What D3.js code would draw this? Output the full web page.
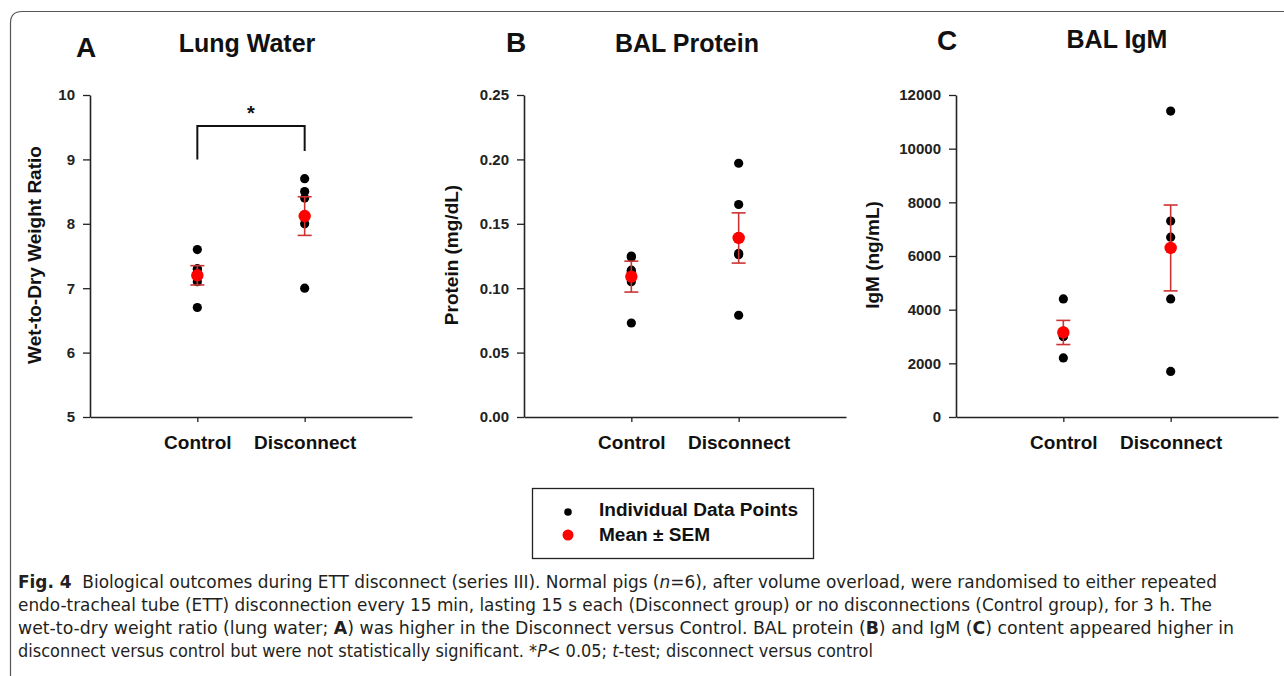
<!DOCTYPE html>
<html>
<head>
<meta charset="utf-8">
<script src="https://cdn.jsdelivr.net/npm/d3@7"></script>
<style>
  html, body { margin: 0; padding: 0; background: #fff; }
  svg { display: block; }
</style>
</head>
<body>
<svg id="chart" width="1284" height="676"></svg>
<script>
// ---------- DATA ----------
const categories = ["Control", "Disconnect"];

const lungControl    = [7.6, 7.3, 7.3, 7.2, 7.1, 6.7];
const lungDisconnect = [8.7, 8.5, 8.4, 8.1, 8.0, 7.0];
const lungMean = [7.2, 8.12];
const lungSem  = [0.15, 0.30];
const lungTicks = [5, 6, 7, 8, 9, 10];

const proteinControl    = [0.125, 0.124, 0.114, 0.113, 0.105, 0.073];
const proteinDisconnect = [0.197, 0.165, 0.140, 0.127, 0.126, 0.079];
const proteinMean = [0.109, 0.139];
const proteinSem  = [0.012, 0.0195];
const proteinTicks = [0.00, 0.05, 0.10, 0.15, 0.20, 0.25];

const igmControl    = [4400, 3200, 3100, 3000, 3000, 2200];
const igmDisconnect = [11400, 7300, 6700, 6300, 4400, 1700];
const igmMean = [3150, 6300];
const igmSem  = [450, 1600];
const igmTicks = [0, 2000, 4000, 6000, 8000, 10000, 12000];

const panelLetters = ["A", "B", "C"];
const panelTitles = ["Lung Water", "BAL Protein", "BAL IgM"];
const yLabels = ["Wet-to-Dry Weight Ratio", "Protein (mg/dL)", "IgM (ng/mL)"];
const legendLabels = ["Individual Data Points", "Mean ± SEM"];

// ---------- DRAW ----------
const svg = d3.select("#chart");
const FONT = "'Liberation Sans', Arial, Helvetica, sans-serif";

// frame
svg.append("path")
  .attr("d", "M10.5,676 V23 Q10.5,11.5 22,11.5 H1284")
  .attr("fill", "none").attr("stroke", "#555").attr("stroke-width", 1.2);

const panels = [
  { x0: 90,  ctrl: lungControl, disc: lungDisconnect, mean: lungMean, sem: lungSem,
    domain: [5, 10], ticks: lungTicks, fmt: d3.format("d"),
    letterX: 86, letterY: 57, titleX: 247, titleY: 52, labelX: 41 },
  { x0: 524, ctrl: proteinControl, disc: proteinDisconnect, mean: proteinMean, sem: proteinSem,
    domain: [0, 0.25], ticks: proteinTicks, fmt: d3.format(".2f"),
    letterX: 516, letterY: 52, titleX: 687, titleY: 52, labelX: 458 },
  { x0: 956, ctrl: igmControl, disc: igmDisconnect, mean: igmMean, sem: igmSem,
    domain: [0, 12000], ticks: igmTicks, fmt: d3.format("d"),
    letterX: 947, letterY: 50, titleX: 1117, titleY: 48, labelX: 879 }
];

const yTop = 95, yBottom = 417, axisW = 322;

panels.forEach((p, i) => {
  const g = svg.append("g");
  const x = d3.scalePoint().domain(categories).range([p.x0, p.x0 + axisW]).padding(1);
  const y = d3.scaleLinear().domain(p.domain).range([yBottom, yTop]);

  // y axis
  const yAx = g.append("g").attr("transform", `translate(${p.x0},0)`)
    .call(d3.axisLeft(y).tickValues(p.ticks).tickFormat(p.fmt).tickSize(7).tickSizeOuter(0).tickPadding(8));
  yAx.select(".domain").attr("stroke", "#222").attr("stroke-width", 1.6);
  yAx.selectAll(".tick line").attr("stroke", "#222").attr("stroke-width", 1.3);
  yAx.selectAll(".tick text").attr("font-family", FONT).attr("font-weight", "bold")
    .attr("font-size", 15).attr("fill", "#222");

  // x axis
  const xAx = g.append("g").attr("transform", `translate(0,${yBottom})`)
    .call(d3.axisBottom(x).tickSize(5).tickSizeOuter(0).tickPadding(14));
  xAx.select(".domain").attr("stroke", "#222").attr("stroke-width", 1.6);
  xAx.selectAll(".tick line").attr("stroke", "#222").attr("stroke-width", 1.3);
  xAx.selectAll(".tick text").attr("font-family", FONT).attr("font-weight", "bold")
    .attr("font-size", 19).attr("fill", "#111").attr("dy", "0.71em");

  // titles
  g.append("text").attr("x", p.letterX).attr("y", p.letterY).attr("text-anchor", "middle")
    .attr("font-family", FONT).attr("font-weight", "bold").attr("font-size", 28).attr("fill", "#111")
    .text(panelLetters[i]);
  g.append("text").attr("x", p.titleX).attr("y", p.titleY).attr("text-anchor", "middle")
    .attr("font-family", FONT).attr("font-weight", "bold").attr("font-size", 25).attr("fill", "#111")
    .text(panelTitles[i]);

  // y label
  g.append("text").attr("transform", `translate(${p.labelX},255) rotate(-90)`)
    .attr("text-anchor", "middle").attr("font-family", FONT).attr("font-weight", "bold")
    .attr("font-size", 19).attr("fill", "#111").text(yLabels[i]);

  // individual points
  const pts = [];
  p.ctrl.forEach(v => pts.push({ c: categories[0], v }));
  p.disc.forEach(v => pts.push({ c: categories[1], v }));
  g.selectAll("circle.pt").data(pts).join("circle").attr("class", "pt")
    .attr("cx", d => x(d.c)).attr("cy", d => y(d.v)).attr("r", 4.6).attr("fill", "#000");

  // error bars
  const stats = categories.map((c, k) => ({ c, m: p.mean[k], s: p.sem[k] }));
  const eb = g.selectAll("g.eb").data(stats).join("g").attr("class", "eb")
    .attr("stroke", "#cc3333").attr("stroke-width", 1.6);
  eb.append("line").attr("x1", d => x(d.c)).attr("x2", d => x(d.c))
    .attr("y1", d => y(d.m + d.s)).attr("y2", d => y(d.m - d.s));
  eb.append("line").attr("x1", d => x(d.c) - 7).attr("x2", d => x(d.c) + 7)
    .attr("y1", d => y(d.m + d.s)).attr("y2", d => y(d.m + d.s));
  eb.append("line").attr("x1", d => x(d.c) - 7).attr("x2", d => x(d.c) + 7)
    .attr("y1", d => y(d.m - d.s)).attr("y2", d => y(d.m - d.s));
  g.selectAll("circle.mean").data(stats).join("circle").attr("class", "mean")
    .attr("cx", d => x(d.c)).attr("cy", d => y(d.m)).attr("r", 6.2).attr("fill", "#ff0000");

  // significance bracket for panel A
  if (i === 0) {
    const xc = x(categories[0]), xd = x(categories[1]);
    g.append("path")
      .attr("d", `M${xc},${y(9.0)} V${y(9.52)} H${xd} V${y(9.13)}`)
      .attr("fill", "none").attr("stroke", "#111").attr("stroke-width", 2);
    g.append("text").attr("x", (xc + xd) / 2).attr("y", 120).attr("text-anchor", "middle")
      .attr("font-family", FONT).attr("font-weight", "bold").attr("font-size", 20).attr("fill", "#111")
      .text("*");
  }
});

// ---------- LEGEND ----------
const lg = svg.append("g");
lg.append("rect").attr("x", 532.5).attr("y", 488.5).attr("width", 281).attr("height", 70)
  .attr("fill", "#fff").attr("stroke", "#222").attr("stroke-width", 1.3);
lg.append("circle").attr("cx", 568).attr("cy", 512).attr("r", 3.8).attr("fill", "#000");
lg.append("circle").attr("cx", 568).attr("cy", 535).attr("r", 5.5).attr("fill", "#ff0000");
lg.append("text").attr("x", 599).attr("y", 516).attr("font-family", FONT).attr("font-weight", "bold")
  .attr("font-size", 18).attr("fill", "#111").attr("textLength", 199).attr("lengthAdjust", "spacingAndGlyphs")
  .text(legendLabels[0]);
lg.append("text").attr("x", 599).attr("y", 541).attr("font-family", FONT).attr("font-weight", "bold")
  .attr("font-size", 18).attr("fill", "#111").attr("textLength", 111).attr("lengthAdjust", "spacingAndGlyphs")
  .text(legendLabels[1]);

// ---------- CAPTION ----------
const CAP = "'Liberation Sans Narrow', 'DejaVu Sans Condensed', 'Open Sans', sans-serif";
const captionLines = [
  { y: 588, w: 1199, parts: [["Fig. 4", "b"], ["  Biological outcomes during ETT disconnect (series III). Normal pigs (", ""], ["n", "i"], ["=6), after volume overload, were randomised to either repeated", ""]] },
  { y: 611, w: 1194, parts: [["endo-tracheal tube (ETT) disconnection every 15 min, lasting 15 s each (Disconnect group) or no disconnections (Control group), for 3 h. The", ""]] },
  { y: 634, w: 1216, parts: [["wet-to-dry weight ratio (lung water; ", ""], ["A", "b"], [") was higher in the Disconnect versus Control. BAL protein (", ""], ["B", "b"], [") and IgM (", ""], ["C", "b"], [") content appeared higher in", ""]] },
  { y: 657, w: 855, parts: [["disconnect versus control but were not statistically significant. *", ""], ["P", "i"], ["< 0.05; ", ""], ["t", "i"], ["-test; disconnect versus control", ""]] }
];
captionLines.forEach(l => {
  const t = svg.append("text").attr("x", 18).attr("y", l.y)
    .attr("font-family", CAP).attr("font-size", 18).attr("fill", "#231f20")
    .attr("xml:space", "preserve").style("white-space", "pre")
    .attr("textLength", l.w).attr("lengthAdjust", "spacingAndGlyphs");
  l.parts.forEach(([s, st]) => {
    const ts = t.append("tspan").text(s);
    if (st === "b") ts.attr("font-weight", "bold");
    if (st === "i") ts.attr("font-style", "italic");
  });
});
</script>
</body>
</html>
